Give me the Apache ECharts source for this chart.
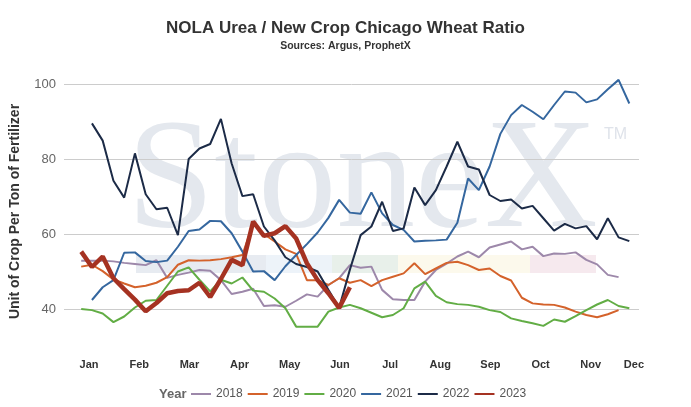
<!DOCTYPE html>
<html><head><meta charset="utf-8">
<script src="https://cdn.jsdelivr.net/npm/echarts@6/dist/echarts.min.js"></script>
<style>html,body{margin:0;padding:0;background:#fff}#c{width:691px;height:407px}</style>
</head><body><div id="c"></div>
<script>
const months = ['Jan','Feb','Mar','Apr','May','Jun','Jul','Aug','Sep','Oct','Nov','Dec'];
const yearNames = ['2018','2019','2020','2021','2022','2023'];
const yTickLabels = [40, 60, 80, 100];
// first week number of each series (values are weekly)
const startWeek = {'2018':1,'2019':1,'2020':1,'2021':2,'2022':2,'2023':1};
const v2018 = [52.9,52.9,52.9,52.7,52.3,52.0,51.7,53.0,48.3,49.1,49.7,50.4,50.2,47.7,44.0,44.6,45.4,40.8,41.0,40.6,42.2,43.9,43.3,46.4,48.2,51.7,51.0,51.3,45.1,42.6,42.4,42.4,47.3,50.4,52.1,54.0,55.3,53.8,56.4,57.2,58.0,55.9,56.6,54.1,54.8,54.7,55.1,53.1,51.9,49.1,48.5];
const v2019 = [51.3,51.8,50.1,47.9,46.8,45.8,46.2,47.0,48.5,51.8,53.0,52.9,53.0,53.3,53.8,54.4,63.0,60.0,58.0,55.9,54.7,47.7,47.7,46.4,48.2,47.0,47.7,46.1,47.7,48.6,49.5,52.2,49.3,50.8,52.3,52.6,51.7,50.4,50.8,48.8,47.6,43.0,41.5,41.2,41.1,40.4,39.3,38.4,37.8,38.6,39.7];
const v2020 = [40.0,39.7,38.8,36.5,38.0,40.4,42.2,42.4,46.2,50.0,51.1,47.8,44.7,47.8,46.8,48.4,44.9,44.6,42.8,40.2,35.3,35.3,35.3,39.3,40.4,41.1,40.2,39.0,37.8,38.4,40.2,45.5,47.3,43.5,41.8,41.3,41.1,40.6,39.7,39.2,37.5,36.8,36.2,35.5,37.2,36.6,38.1,39.7,41.2,42.4,40.8,40.2];
const v2021 = [42.4,45.8,47.7,55.0,55.1,52.8,52.5,52.9,56.6,60.8,61.2,63.5,63.4,60.2,55.3,50.0,50.1,47.7,51.4,54.4,57.3,60.4,64.3,69.1,65.7,65.4,71.1,65.5,62.4,61.1,58.0,58.2,58.3,58.5,63.0,74.8,71.7,78.0,86.7,91.7,94.4,92.6,90.6,94.4,98.0,97.7,95.1,95.9,98.6,101.1,94.8];
const v2022 = [89.5,84.9,74.2,69.7,81.5,70.6,66.6,67.0,59.7,80.0,82.8,84.0,90.7,78.8,70.1,70.6,62.0,58.3,53.8,52.0,51.2,50.0,45.1,40.3,50.5,59.7,62.0,68.6,60.8,61.5,72.4,67.7,71.7,78.0,84.6,78.0,77.2,70.4,68.8,69.2,66.8,67.5,64.2,60.9,62.7,61.5,62.1,58.6,64.2,59.1,58.1];
const v2023 = [55.3,51.2,54.0,48.2,45.3,42.5,39.4,41.6,44.2,44.8,45.0,47.0,43.2,48.0,53.1,51.7,63.3,59.5,60.2,62.1,58.8,52.2,47.7,44.2,40.3,45.8];

const values = {'2018':v2018,'2019':v2019,'2020':v2020,'2021':v2021,'2022':v2022,'2023':v2023};
const colors = {'2018':'#9d88aa','2019':'#d4622b','2020':'#62ad45','2021':'#35679f','2022':'#1c2b47','2023':'#a53222'};
const widths = {'2018':2,'2019':2,'2020':2,'2021':2,'2022':2,'2023':4.5};

const series = yearNames.map(y => ({
  name: y, type: 'line', xAxisIndex: 0, yAxisIndex: 0,
  data: values[y].map((v, i) => [startWeek[y] + i, v]),
  showSymbol: false, symbol: 'none',
  lineStyle: {color: colors[y], width: widths[y]},
  itemStyle: {color: colors[y]},
  z: y === '2023' ? 5 : 3
}));

const chart = echarts.init(document.getElementById('c'), null, {renderer: 'canvas'});
chart.setOption({
  animation: false,
  title: [
    {text: 'NOLA Urea / New Crop Chicago Wheat Ratio', left: 'center', top: 15,
     textStyle: {fontFamily: 'Liberation Sans', fontSize: 17, fontWeight: 'bold', color: '#333'},
     subtext: 'Sources: Argus, ProphetX', itemGap: 4,
     subtextStyle: {fontFamily: 'Liberation Sans', fontSize: 10.5, fontWeight: 'bold', color: '#333'}},
    {text: 'Year', left: 154, top: 383,
     textStyle: {fontFamily: 'Liberation Sans', fontSize: 13, fontWeight: 'bold', color: '#666'}}
  ],
  legend: {
    data: yearNames, left: 186, top: 383, icon: 'rect', itemWidth: 20, itemHeight: 2, itemGap: 5,
    textStyle: {fontFamily: 'Liberation Sans', fontSize: 12, color: '#555'}
  },
  graphic: [
    {type: 'rect', z: -10, shape: {x: 136, y: 255, width: 130, height: 18}, style: {fill: '#e7ebf1'}},
    {type: 'rect', z: -10, shape: {x: 266, y: 255, width: 66, height: 18}, style: {fill: '#edf3f9'}},
    {type: 'rect', z: -10, shape: {x: 332, y: 255, width: 66, height: 18}, style: {fill: '#e8f0ea'}},
    {type: 'rect', z: -10, shape: {x: 398, y: 255, width: 132, height: 18}, style: {fill: '#fcf9ec'}},
    {type: 'rect', z: -10, shape: {x: 530, y: 255, width: 66, height: 18}, style: {fill: '#f6e9ee'}},
    {type: 'text', z: -9, x: 127, y: 106,
     style: {text: 'StoneX', font: '157px "Liberation Serif"', fill: '#e4e8ee', textAlign: 'left', textVerticalAlign: 'top'}},
    {type: 'text', z: -9, x: 604, y: 127,
     style: {text: 'TM', font: '16px "Liberation Sans"', fill: '#dfe3ea', textVerticalAlign: 'top'}}
  ],
  grid: [
    {left: 61, right: 52, top: 76.5, bottom: 60.5},
    {left: 64, width: 602, top: 76.5, bottom: 60.5}
  ],
  xAxis: [
    {type: 'value', gridIndex: 0, min: -0.6, max: 52.9,
     axisLine: {show: false}, axisTick: {show: false}, axisLabel: {show: false}, splitLine: {show: false}},
    {type: 'category', gridIndex: 1, data: months, boundaryGap: true,
     axisLine: {show: false}, axisTick: {show: false}, splitLine: {show: false},
     axisLabel: {margin: 13, fontFamily: 'Liberation Sans', fontSize: 11, fontWeight: 'bold', color: '#333',
       formatter: v => v === 'Dec' ? '{d|Dec}' : v,
       rich: {d: {padding: [0, 14, 0, 0], fontFamily: 'Liberation Sans', fontSize: 11, fontWeight: 'bold', color: '#333'}}}}
  ],
  yAxis: [
    {type: 'value', gridIndex: 0, min: 30, max: 102, interval: 10,
     name: 'Unit of Crop Per Ton of Fertilizer', nameLocation: 'middle', nameGap: 42,
     nameTextStyle: {fontFamily: 'Liberation Sans', fontSize: 14, fontWeight: 'bold', color: '#333'},
     axisLine: {show: false}, axisTick: {show: false},
     axisLabel: {margin: 8, fontFamily: 'Liberation Sans', fontSize: 13, color: '#666',
       formatter: v => yTickLabels.indexOf(v) >= 0 ? String(v) : ''},
     splitLine: {show: true, lineStyle: {color: ['rgba(0,0,0,0)', '#cccccc'], width: 1}}},
    {type: 'value', gridIndex: 1, min: 0, max: 1, show: false}
  ],
  series: series
});
</script>
</body></html>
